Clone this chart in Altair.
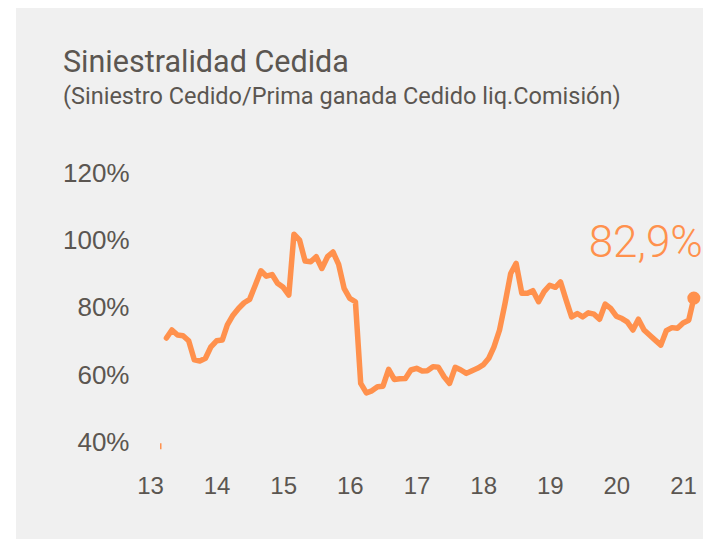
import altair as alt
import pandas as pd

# Monthly values (%), April 2013 .. March 2021
values = [
    71.0, 73.4, 71.9, 71.7, 70.2, 64.5, 64.2, 65.0, 68.4, 70.2,
    70.4, 74.9, 77.8, 79.8, 81.5, 82.5, 86.7, 91.0, 89.4, 89.9,
    87.3, 86.1, 83.8, 101.9, 100.1, 93.9, 93.7, 95.2, 91.7, 95.2,
    96.6, 92.9, 85.8, 82.8, 81.8, 57.5, 54.7, 55.3, 56.5, 56.7,
    61.7, 58.7, 58.9, 59.0, 61.5, 62.0, 61.2, 61.3, 62.5, 62.3,
    59.5, 57.5, 62.3, 61.5, 60.5, 61.3, 62.0, 63.0, 65.0, 68.3,
    73.4, 81.3, 90.2, 93.2, 84.3, 84.3, 85.1, 81.8, 84.8, 86.7,
    86.1, 87.7, 82.3, 77.3, 78.3, 77.3, 78.5, 78.1, 76.6, 81.1,
    79.8, 77.5, 76.8, 75.8, 73.4, 76.6, 73.4, 71.9, 70.4, 68.9,
    73.2, 74.1, 73.9, 75.5, 76.3, 82.9,
]
start_month = "2013-04-01"
years = [2013, 2014, 2015, 2016, 2017, 2018, 2019, 2020, 2021]
y_ticks = [40, 60, 80, 100, 120]
artifact_date = ["2013-03-01"]
artifact_top = [39.7]
artifact_bottom = [37.9]

dates = pd.date_range(start_month, periods=len(values), freq="MS").strftime("%Y-%m-%d")
df = pd.DataFrame({"fecha": dates, "valor": values})
last = df.tail(1)
art = pd.DataFrame({"fecha": artifact_date, "valor": artifact_top, "valor2": artifact_bottom})

ORANGE = "#ff914d"
TEXT = "#5b5651"
BG = "#f0f0f0"

W, H = 549.5, 269
PL, PT = 142, 165.3
SVG_W, SVG_H = 695, 531

x_scale = alt.Scale(
    type="utc",
    domain=[alt.DateTime(year=2013, month=1, date=1, utc=True),
            alt.DateTime(year=2021, month=4, date=1, utc=True)],
)
y_scale = alt.Scale(domain=[40, 120], zero=False, nice=False)

x_enc = alt.X(
    "fecha:T", scale=x_scale, title=None,
    axis=alt.Axis(
        values=[alt.DateTime(year=y, month=1, date=1, utc=True) for y in years],
        labelExpr="utcFormat(datum.value, '%y')",
        domain=False, ticks=False, grid=False,
        labelFontSize=24, labelColor=TEXT, labelFont="Liberation Sans",
        labelPadding=44, labelBaseline="middle", labelAlign="center",
        labelFlush=False, labelOverlap=False, zindex=1, title=None,
    ),
)
y_enc = alt.Y(
    "valor:Q", scale=y_scale, title=None,
    axis=alt.Axis(
        values=y_ticks, labelExpr="datum.value + '%'",
        domain=False, ticks=False, grid=False,
        labelFontSize=26, labelColor=TEXT, labelFont="Liberation Sans",
        labelPadding=21, zindex=1, title=None,
    ),
)

line = alt.Chart(df).mark_line(
    color=ORANGE, strokeWidth=5.5, strokeJoin="round", strokeCap="round"
).encode(x=x_enc, y=y_enc)

artifact = alt.Chart(art).mark_rule(color=ORANGE, strokeWidth=1.5).encode(
    x=alt.X("fecha:T", title=None),
    y=alt.Y("valor:Q", title=None),
    y2="valor2:Q",
)

dot = alt.Chart(last).mark_circle(size=170, color=ORANGE, opacity=1).encode(
    x=alt.X("fecha:T", title=None), y=alt.Y("valor:Q", title=None)
)

label = alt.Chart(last).transform_calculate(
    etiqueta="replace(format(datum.valor, '.1f'), '.', ',') + '%'"
).mark_text(
    align="right", baseline="alphabetic", dx=9, dy=-41,
    fontSize=44, font="Roboto", fontWeight=300, color=ORANGE,
).encode(
    x=alt.X("fecha:T", title=None), y=alt.Y("valor:Q", title=None),
    text="etiqueta:N",
)

strip = alt.Chart(pd.DataFrame({"a": [0]})).mark_rect(color="white").encode(
    x=alt.value(-PL), x2=alt.value(-PL + 8),
    y=alt.value(-PT), y2=alt.value(SVG_H - PT),
)

chart = alt.layer(line, artifact, dot, label, strip).properties(
    width=W, height=H,
    padding={"left": PL, "top": PT, "right": SVG_W - PL - W, "bottom": SVG_H - PT - H},
    autosize=alt.AutoSizeParams(type="none"),
    background=BG,
    title=alt.TitleParams(
        text="Siniestralidad Cedida",
        subtitle="(Siniestro Cedido/Prima ganada Cedido liq.Comisión)",
        anchor="start", frame="group", dx=-87,
        font="Roboto", fontSize=30.5, fontWeight="normal",
        color=TEXT, subtitleFont="Roboto", subtitleFontSize=23.5,
        subtitleColor=TEXT, subtitlePadding=6, offset=-100,
    ),
).configure_view(stroke=None)

chart.save("out.html", embed_options={"renderer": "svg", "actions": False})
